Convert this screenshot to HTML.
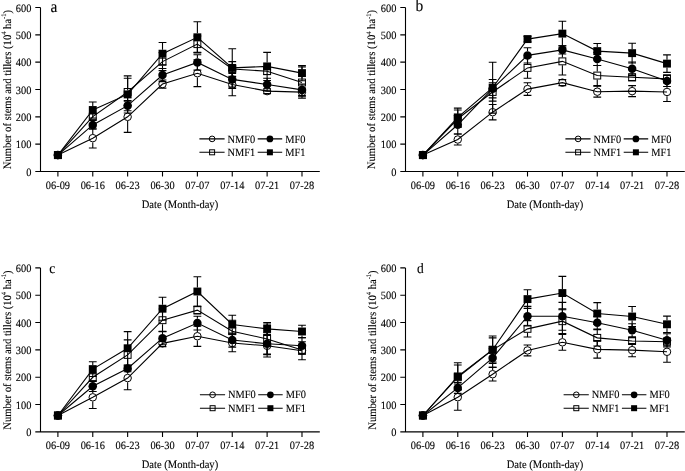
<!DOCTYPE html>
<html><head><meta charset="utf-8"><style>
html,body{margin:0;padding:0;background:#fff;}
svg{display:block;will-change:transform;}
text{font-family:"Liberation Serif", serif;font-size:10.4px;fill:#000;text-rendering:geometricPrecision;stroke:#000;stroke-width:0.1px;}
</style></head><body>
<svg width="685" height="471" viewBox="0 0 685 471">
<rect width="685" height="471" fill="#fff"/>
<g transform="translate(0,0)">
<path d="M40.5 7.5 V171.5 M35.3 171.5 H319.8" stroke="#000" stroke-width="1.1" fill="none"/>
<path d="M35.3 144.17 H40.5M35.3 116.83 H40.5M35.3 89.50 H40.5M35.3 62.17 H40.5M35.3 34.83 H40.5M35.3 7.50 H40.5M57.90 171.5 V176.6M92.77 171.5 V176.6M127.64 171.5 V176.6M162.51 171.5 V176.6M197.38 171.5 V176.6M232.25 171.5 V176.6M267.12 171.5 V176.6M301.99 171.5 V176.6" stroke="#000" stroke-width="1.1" fill="none"/>
<text transform="translate(31.40,175.60) scale(1,1.07)" text-anchor="end">0</text>
<text transform="translate(31.40,148.27) scale(1,1.07)" text-anchor="end">100</text>
<text transform="translate(31.40,120.93) scale(1,1.07)" text-anchor="end">200</text>
<text transform="translate(31.40,93.60) scale(1,1.07)" text-anchor="end">300</text>
<text transform="translate(31.40,66.27) scale(1,1.07)" text-anchor="end">400</text>
<text transform="translate(31.40,38.93) scale(1,1.07)" text-anchor="end">500</text>
<text transform="translate(31.40,11.60) scale(1,1.07)" text-anchor="end">600</text>
<text transform="translate(57.90,188.60) scale(1,1.07)" text-anchor="middle">06-09</text>
<text transform="translate(92.77,188.60) scale(1,1.07)" text-anchor="middle">06-16</text>
<text transform="translate(127.64,188.60) scale(1,1.07)" text-anchor="middle">06-23</text>
<text transform="translate(162.51,188.60) scale(1,1.07)" text-anchor="middle">06-30</text>
<text transform="translate(197.38,188.60) scale(1,1.07)" text-anchor="middle">07-07</text>
<text transform="translate(232.25,188.60) scale(1,1.07)" text-anchor="middle">07-14</text>
<text transform="translate(267.12,188.60) scale(1,1.07)" text-anchor="middle">07-21</text>
<text transform="translate(301.99,188.60) scale(1,1.07)" text-anchor="middle">07-28</text>
<text transform="translate(179.94,207.70) scale(1,1.07)" text-anchor="middle" style="font-size:10.55px">Date (Month-day)</text>
<text transform="translate(10.7,89.60) rotate(-90) scale(1,1.07)" text-anchor="middle" style="font-size:10.6px">Number of stems and tillers (10<tspan dy="-4" font-size="6.5">4</tspan><tspan dy="4"> ha</tspan><tspan dy="-4" font-size="6.5">-1</tspan><tspan dy="4">)</tspan></text>
<text transform="translate(50.60,12.00) scale(1,1.07)" style="font-size:15.5px">a</text>
<g transform="translate(0,0)">
<path d="M199.4 138.9 H224.6 M257.7 138.9 H282.2 M199.4 152.3 H224.6 M257.7 152.3 H282.2" stroke="#000" stroke-width="1.1"/>
<circle cx="212.10" cy="138.90" r="2.85" fill="none" stroke="#000" stroke-width="1"/>
<circle cx="269.90" cy="138.90" r="3.35" fill="#000"/>
<rect x="209.60" y="149.80" width="5.00" height="5.00" fill="none" stroke="#000" stroke-width="1"/>
<rect x="266.90" y="149.30" width="6.00" height="6.00" fill="#000"/>
<text transform="translate(227.60,142.50) scale(1,1.07)">NMF0</text><text transform="translate(285.30,142.50) scale(1,1.07)">MF0</text>
<text transform="translate(227.60,156.30) scale(1,1.07)">NMF1</text><text transform="translate(285.30,156.30) scale(1,1.07)">MF1</text>
</g>
<polyline points="57.90,155.10 92.77,138.15 127.64,116.83 162.51,84.03 197.38,73.21 232.25,84.58 267.12,91.14 301.99,92.10" fill="none" stroke="#000" stroke-width="1.1"/>
<path d="M92.77 128.31 V133.90 M92.77 142.40 V147.99 M88.87 128.31 H96.67 M88.87 147.99 H96.67 M127.64 101.25 V112.58 M127.64 121.08 V132.41 M123.74 101.25 H131.54 M123.74 132.41 H131.54 M158.61 79.93 H166.41 M158.61 88.13 H166.41 M197.38 59.82 V68.96 M197.38 77.46 V86.60 M193.48 59.82 H201.28 M193.48 86.60 H201.28 M232.25 73.37 V80.33 M232.25 88.83 V95.79 M228.35 73.37 H236.15 M228.35 95.79 H236.15 M263.22 88.68 H271.02 M263.22 93.60 H271.02 M298.09 88.00 H305.89 M298.09 96.20 H305.89 " fill="none" stroke="#000" stroke-width="1.1"/>
<circle cx="57.90" cy="155.10" r="3.75" fill="none" stroke="#000" stroke-width="1"/>
<circle cx="92.77" cy="138.15" r="3.75" fill="none" stroke="#000" stroke-width="1"/>
<circle cx="127.64" cy="116.83" r="3.75" fill="none" stroke="#000" stroke-width="1"/>
<circle cx="162.51" cy="84.03" r="3.75" fill="none" stroke="#000" stroke-width="1"/>
<circle cx="197.38" cy="73.21" r="3.75" fill="none" stroke="#000" stroke-width="1"/>
<circle cx="232.25" cy="84.58" r="3.75" fill="none" stroke="#000" stroke-width="1"/>
<circle cx="267.12" cy="91.14" r="3.75" fill="none" stroke="#000" stroke-width="1"/>
<circle cx="301.99" cy="92.10" r="3.75" fill="none" stroke="#000" stroke-width="1"/>
<polyline points="57.90,155.10 92.77,116.56 127.64,91.96 162.51,61.62 197.38,44.13 232.25,69.00 267.12,71.19 301.99,82.50" fill="none" stroke="#000" stroke-width="1.1"/>
<path d="M88.87 113.83 H96.67 M88.87 119.29 H96.67 M127.64 78.29 V88.01 M127.64 95.91 V105.63 M123.74 78.29 H131.54 M123.74 105.63 H131.54 M162.51 52.60 V57.67 M162.51 65.57 V70.64 M158.61 52.60 H166.41 M158.61 70.64 H166.41 M197.38 35.93 V40.18 M197.38 48.08 V52.33 M193.48 35.93 H201.28 M193.48 52.33 H201.28 M232.25 61.62 V65.05 M232.25 72.95 V76.38 M228.35 61.62 H236.15 M228.35 76.38 H236.15 M263.22 67.91 H271.02 M263.22 74.47 H271.02 M301.99 66.92 V78.55 M301.99 86.45 V98.08 M298.09 66.92 H305.89 M298.09 98.08 H305.89 " fill="none" stroke="#000" stroke-width="1.1"/>
<rect x="54.45" y="151.65" width="6.90" height="6.90" fill="none" stroke="#000" stroke-width="1"/>
<rect x="89.32" y="113.11" width="6.90" height="6.90" fill="none" stroke="#000" stroke-width="1"/>
<rect x="124.19" y="88.51" width="6.90" height="6.90" fill="none" stroke="#000" stroke-width="1"/>
<rect x="159.06" y="58.17" width="6.90" height="6.90" fill="none" stroke="#000" stroke-width="1"/>
<rect x="193.93" y="40.68" width="6.90" height="6.90" fill="none" stroke="#000" stroke-width="1"/>
<rect x="228.80" y="65.55" width="6.90" height="6.90" fill="none" stroke="#000" stroke-width="1"/>
<rect x="263.67" y="67.74" width="6.90" height="6.90" fill="none" stroke="#000" stroke-width="1"/>
<rect x="298.54" y="79.05" width="6.90" height="6.90" fill="none" stroke="#000" stroke-width="1"/>
<polyline points="57.90,155.10 92.77,124.90 127.64,105.63 162.51,75.10 197.38,62.44 232.25,79.39 267.12,84.58 301.99,89.91" fill="none" stroke="#000" stroke-width="1.1"/>
<path d="M92.77 120.52 V120.65 M92.77 129.15 V129.27 M88.87 120.52 H96.67 M88.87 129.27 H96.67 M127.64 100.43 V101.38 M127.64 109.88 V110.82 M123.74 100.43 H131.54 M123.74 110.82 H131.54 M162.51 68.54 V70.85 M162.51 79.35 V81.66 M158.61 68.54 H166.41 M158.61 81.66 H166.41 M197.38 54.79 V58.19 M197.38 66.69 V70.09 M193.48 54.79 H201.28 M193.48 70.09 H201.28 M232.25 70.37 V75.14 M232.25 83.64 V88.41 M228.35 70.37 H236.15 M228.35 88.41 H236.15 M267.12 78.29 V80.33 M267.12 88.83 V90.87 M263.22 78.29 H271.02 M263.22 90.87 H271.02 M301.99 84.17 V85.66 M301.99 94.16 V95.65 M298.09 84.17 H305.89 M298.09 95.65 H305.89 " fill="none" stroke="#000" stroke-width="1.1"/>
<circle cx="57.90" cy="155.10" r="4.25" fill="#000"/>
<circle cx="92.77" cy="124.90" r="4.25" fill="#000"/>
<circle cx="127.64" cy="105.63" r="4.25" fill="#000"/>
<circle cx="162.51" cy="75.10" r="4.25" fill="#000"/>
<circle cx="197.38" cy="62.44" r="4.25" fill="#000"/>
<circle cx="232.25" cy="79.39" r="4.25" fill="#000"/>
<circle cx="267.12" cy="84.58" r="4.25" fill="#000"/>
<circle cx="301.99" cy="89.91" r="4.25" fill="#000"/>
<polyline points="57.90,155.10 92.77,110.00 127.64,94.42 162.51,53.69 197.38,37.29 232.25,67.91 267.12,66.40 301.99,73.10" fill="none" stroke="#000" stroke-width="1.1"/>
<path d="M92.77 102.07 V106.05 M92.77 113.95 V117.93 M88.87 102.07 H96.67 M88.87 117.93 H96.67 M127.64 75.83 V90.47 M127.64 98.37 V113.01 M123.74 75.83 H131.54 M123.74 113.01 H131.54 M162.51 42.49 V49.74 M162.51 57.64 V64.90 M158.61 42.49 H166.41 M158.61 64.90 H166.41 M197.38 21.71 V33.34 M197.38 41.24 V52.87 M193.48 21.71 H201.28 M193.48 52.87 H201.28 M232.25 48.77 V63.96 M232.25 71.86 V87.04 M228.35 48.77 H236.15 M228.35 87.04 H236.15 M267.12 52.33 V62.45 M267.12 70.35 V80.48 M263.22 52.33 H271.02 M263.22 80.48 H271.02 M301.99 65.45 V69.15 M301.99 77.05 V80.75 M298.09 65.45 H305.89 M298.09 80.75 H305.89 " fill="none" stroke="#000" stroke-width="1.1"/>
<rect x="53.95" y="151.15" width="7.90" height="7.90" fill="#000"/>
<rect x="88.82" y="106.05" width="7.90" height="7.90" fill="#000"/>
<rect x="123.69" y="90.47" width="7.90" height="7.90" fill="#000"/>
<rect x="158.56" y="49.74" width="7.90" height="7.90" fill="#000"/>
<rect x="193.43" y="33.34" width="7.90" height="7.90" fill="#000"/>
<rect x="228.30" y="63.96" width="7.90" height="7.90" fill="#000"/>
<rect x="263.17" y="62.45" width="7.90" height="7.90" fill="#000"/>
<rect x="298.04" y="69.15" width="7.90" height="7.90" fill="#000"/>
</g>
<g transform="translate(365,0)">
<path d="M40.5 7.5 V171.5 M35.3 171.5 H319.8" stroke="#000" stroke-width="1.1" fill="none"/>
<path d="M35.3 144.17 H40.5M35.3 116.83 H40.5M35.3 89.50 H40.5M35.3 62.17 H40.5M35.3 34.83 H40.5M35.3 7.50 H40.5M57.90 171.5 V176.6M92.77 171.5 V176.6M127.64 171.5 V176.6M162.51 171.5 V176.6M197.38 171.5 V176.6M232.25 171.5 V176.6M267.12 171.5 V176.6M301.99 171.5 V176.6" stroke="#000" stroke-width="1.1" fill="none"/>
<text transform="translate(31.40,175.60) scale(1,1.07)" text-anchor="end">0</text>
<text transform="translate(31.40,148.27) scale(1,1.07)" text-anchor="end">100</text>
<text transform="translate(31.40,120.93) scale(1,1.07)" text-anchor="end">200</text>
<text transform="translate(31.40,93.60) scale(1,1.07)" text-anchor="end">300</text>
<text transform="translate(31.40,66.27) scale(1,1.07)" text-anchor="end">400</text>
<text transform="translate(31.40,38.93) scale(1,1.07)" text-anchor="end">500</text>
<text transform="translate(31.40,11.60) scale(1,1.07)" text-anchor="end">600</text>
<text transform="translate(57.90,188.60) scale(1,1.07)" text-anchor="middle">06-09</text>
<text transform="translate(92.77,188.60) scale(1,1.07)" text-anchor="middle">06-16</text>
<text transform="translate(127.64,188.60) scale(1,1.07)" text-anchor="middle">06-23</text>
<text transform="translate(162.51,188.60) scale(1,1.07)" text-anchor="middle">06-30</text>
<text transform="translate(197.38,188.60) scale(1,1.07)" text-anchor="middle">07-07</text>
<text transform="translate(232.25,188.60) scale(1,1.07)" text-anchor="middle">07-14</text>
<text transform="translate(267.12,188.60) scale(1,1.07)" text-anchor="middle">07-21</text>
<text transform="translate(301.99,188.60) scale(1,1.07)" text-anchor="middle">07-28</text>
<text transform="translate(179.94,207.70) scale(1,1.07)" text-anchor="middle" style="font-size:10.55px">Date (Month-day)</text>
<text transform="translate(10.0,89.60) rotate(-90) scale(1,1.07)" text-anchor="middle" style="font-size:10.6px">Number of stems and tillers (10<tspan dy="-4" font-size="6.5">4</tspan><tspan dy="4"> ha</tspan><tspan dy="-4" font-size="6.5">-1</tspan><tspan dy="4">)</tspan></text>
<text transform="translate(50.60,11.20) scale(1,1.07)" style="font-size:15.5px">b</text>
<g transform="translate(1.0,0)">
<path d="M199.4 138.9 H224.6 M257.7 138.9 H282.2 M199.4 152.3 H224.6 M257.7 152.3 H282.2" stroke="#000" stroke-width="1.1"/>
<circle cx="212.10" cy="138.90" r="2.85" fill="none" stroke="#000" stroke-width="1"/>
<circle cx="269.90" cy="138.90" r="3.35" fill="#000"/>
<rect x="209.60" y="149.80" width="5.00" height="5.00" fill="none" stroke="#000" stroke-width="1"/>
<rect x="266.90" y="149.30" width="6.00" height="6.00" fill="#000"/>
<text transform="translate(227.60,142.50) scale(1,1.07)">NMF0</text><text transform="translate(285.30,142.50) scale(1,1.07)">MF0</text>
<text transform="translate(227.60,156.30) scale(1,1.07)">NMF1</text><text transform="translate(285.30,156.30) scale(1,1.07)">MF1</text>
</g>
<polyline points="57.90,155.10 92.77,139.52 127.64,112.19 162.51,89.09 197.38,82.67 232.25,91.69 267.12,91.14 301.99,91.96" fill="none" stroke="#000" stroke-width="1.1"/>
<path d="M92.77 134.05 V135.27 M92.77 143.77 V144.99 M88.87 134.05 H96.67 M88.87 144.99 H96.67 M127.64 104.53 V107.94 M127.64 116.44 V119.84 M123.74 104.53 H131.54 M123.74 119.84 H131.54 M162.51 82.80 V84.84 M162.51 93.34 V95.38 M158.61 82.80 H166.41 M158.61 95.38 H166.41 M193.48 79.66 H201.28 M193.48 85.67 H201.28 M232.25 86.22 V87.44 M232.25 95.94 V97.15 M228.35 86.22 H236.15 M228.35 97.15 H236.15 M267.12 85.67 V86.89 M267.12 95.39 V96.61 M263.22 85.67 H271.02 M263.22 96.61 H271.02 M301.99 82.39 V87.71 M301.99 96.21 V101.53 M298.09 82.39 H305.89 M298.09 101.53 H305.89 " fill="none" stroke="#000" stroke-width="1.1"/>
<circle cx="57.90" cy="155.10" r="3.75" fill="none" stroke="#000" stroke-width="1"/>
<circle cx="92.77" cy="139.52" r="3.75" fill="none" stroke="#000" stroke-width="1"/>
<circle cx="127.64" cy="112.19" r="3.75" fill="none" stroke="#000" stroke-width="1"/>
<circle cx="162.51" cy="89.09" r="3.75" fill="none" stroke="#000" stroke-width="1"/>
<circle cx="197.38" cy="82.67" r="3.75" fill="none" stroke="#000" stroke-width="1"/>
<circle cx="232.25" cy="91.69" r="3.75" fill="none" stroke="#000" stroke-width="1"/>
<circle cx="267.12" cy="91.14" r="3.75" fill="none" stroke="#000" stroke-width="1"/>
<circle cx="301.99" cy="91.96" r="3.75" fill="none" stroke="#000" stroke-width="1"/>
<polyline points="57.90,155.10 92.77,118.75 127.64,91.96 162.51,67.91 197.38,61.35 232.25,75.56 267.12,77.31 301.99,78.84" fill="none" stroke="#000" stroke-width="1.1"/>
<path d="M92.77 110.00 V114.80 M92.77 122.70 V127.49 M88.87 110.00 H96.67 M88.87 127.49 H96.67 M127.64 82.78 V88.01 M127.64 95.91 V101.14 M123.74 82.78 H131.54 M123.74 101.14 H131.54 M162.51 57.52 V63.96 M162.51 71.86 V78.29 M158.61 57.52 H166.41 M158.61 78.29 H166.41 M197.38 47.68 V57.40 M197.38 65.30 V75.01 M193.48 47.68 H201.28 M193.48 75.01 H201.28 M232.25 65.45 V71.61 M232.25 79.51 V85.67 M228.35 65.45 H236.15 M228.35 85.67 H236.15 M263.22 74.03 H271.02 M263.22 80.59 H271.02 M301.99 74.74 V74.89 M301.99 82.79 V82.94 M298.09 74.74 H305.89 M298.09 82.94 H305.89 " fill="none" stroke="#000" stroke-width="1.1"/>
<rect x="54.45" y="151.65" width="6.90" height="6.90" fill="none" stroke="#000" stroke-width="1"/>
<rect x="89.32" y="115.30" width="6.90" height="6.90" fill="none" stroke="#000" stroke-width="1"/>
<rect x="124.19" y="88.51" width="6.90" height="6.90" fill="none" stroke="#000" stroke-width="1"/>
<rect x="159.06" y="64.46" width="6.90" height="6.90" fill="none" stroke="#000" stroke-width="1"/>
<rect x="193.93" y="57.90" width="6.90" height="6.90" fill="none" stroke="#000" stroke-width="1"/>
<rect x="228.80" y="72.11" width="6.90" height="6.90" fill="none" stroke="#000" stroke-width="1"/>
<rect x="263.67" y="73.86" width="6.90" height="6.90" fill="none" stroke="#000" stroke-width="1"/>
<rect x="298.54" y="75.39" width="6.90" height="6.90" fill="none" stroke="#000" stroke-width="1"/>
<polyline points="57.90,155.10 92.77,124.76 127.64,88.68 162.51,55.39 197.38,49.87 232.25,59.00 267.12,68.81 301.99,81.03" fill="none" stroke="#000" stroke-width="1.1"/>
<path d="M92.77 115.47 V120.51 M92.77 129.01 V134.05 M88.87 115.47 H96.67 M88.87 134.05 H96.67 M127.64 79.50 V84.43 M127.64 92.93 V97.86 M123.74 79.50 H131.54 M123.74 97.86 H131.54 M162.51 47.73 V51.14 M162.51 59.64 V63.04 M158.61 47.73 H166.41 M158.61 63.04 H166.41 M193.48 45.77 H201.28 M193.48 53.97 H201.28 M232.25 52.44 V54.75 M232.25 63.25 V65.56 M228.35 52.44 H236.15 M228.35 65.56 H236.15 M267.12 61.98 V64.56 M267.12 73.06 V75.64 M263.22 61.98 H271.02 M263.22 75.64 H271.02 M301.99 75.56 V76.78 M301.99 85.28 V86.49 M298.09 75.56 H305.89 M298.09 86.49 H305.89 " fill="none" stroke="#000" stroke-width="1.1"/>
<circle cx="57.90" cy="155.10" r="4.25" fill="#000"/>
<circle cx="92.77" cy="124.76" r="4.25" fill="#000"/>
<circle cx="127.64" cy="88.68" r="4.25" fill="#000"/>
<circle cx="162.51" cy="55.39" r="4.25" fill="#000"/>
<circle cx="197.38" cy="49.87" r="4.25" fill="#000"/>
<circle cx="232.25" cy="59.00" r="4.25" fill="#000"/>
<circle cx="267.12" cy="68.81" r="4.25" fill="#000"/>
<circle cx="301.99" cy="81.03" r="4.25" fill="#000"/>
<polyline points="57.90,155.10 92.77,117.38 127.64,87.70 162.51,39.10 197.38,33.60 232.25,51.10 267.12,53.15 301.99,63.62" fill="none" stroke="#000" stroke-width="1.1"/>
<path d="M92.77 108.09 V113.43 M92.77 121.33 V126.67 M88.87 108.09 H96.67 M88.87 126.67 H96.67 M127.64 62.28 V83.75 M127.64 91.65 V113.12 M123.74 62.28 H131.54 M123.74 113.12 H131.54 M158.61 36.36 H166.41 M158.61 41.83 H166.41 M197.38 21.30 V29.65 M197.38 37.55 V45.90 M193.48 21.30 H201.28 M193.48 45.90 H201.28 M232.25 43.44 V47.15 M232.25 55.05 V58.75 M228.35 43.44 H236.15 M228.35 58.75 H236.15 M267.12 43.31 V49.20 M267.12 57.10 V62.99 M263.22 43.31 H271.02 M263.22 62.99 H271.02 M301.99 54.87 V59.67 M301.99 67.57 V72.36 M298.09 54.87 H305.89 M298.09 72.36 H305.89 " fill="none" stroke="#000" stroke-width="1.1"/>
<rect x="53.95" y="151.15" width="7.90" height="7.90" fill="#000"/>
<rect x="88.82" y="113.43" width="7.90" height="7.90" fill="#000"/>
<rect x="123.69" y="83.75" width="7.90" height="7.90" fill="#000"/>
<rect x="158.56" y="35.15" width="7.90" height="7.90" fill="#000"/>
<rect x="193.43" y="29.65" width="7.90" height="7.90" fill="#000"/>
<rect x="228.30" y="47.15" width="7.90" height="7.90" fill="#000"/>
<rect x="263.17" y="49.20" width="7.90" height="7.90" fill="#000"/>
<rect x="298.04" y="59.67" width="7.90" height="7.90" fill="#000"/>
</g>
<g transform="translate(0,260.4)">
<path d="M40.5 7.5 V171.5 M35.3 171.5 H319.8" stroke="#000" stroke-width="1.1" fill="none"/>
<path d="M35.3 144.17 H40.5M35.3 116.83 H40.5M35.3 89.50 H40.5M35.3 62.17 H40.5M35.3 34.83 H40.5M35.3 7.50 H40.5M57.90 171.5 V176.6M92.77 171.5 V176.6M127.64 171.5 V176.6M162.51 171.5 V176.6M197.38 171.5 V176.6M232.25 171.5 V176.6M267.12 171.5 V176.6M301.99 171.5 V176.6" stroke="#000" stroke-width="1.1" fill="none"/>
<text transform="translate(31.40,175.60) scale(1,1.07)" text-anchor="end">0</text>
<text transform="translate(31.40,148.27) scale(1,1.07)" text-anchor="end">100</text>
<text transform="translate(31.40,120.93) scale(1,1.07)" text-anchor="end">200</text>
<text transform="translate(31.40,93.60) scale(1,1.07)" text-anchor="end">300</text>
<text transform="translate(31.40,66.27) scale(1,1.07)" text-anchor="end">400</text>
<text transform="translate(31.40,38.93) scale(1,1.07)" text-anchor="end">500</text>
<text transform="translate(31.40,11.60) scale(1,1.07)" text-anchor="end">600</text>
<text transform="translate(57.90,188.60) scale(1,1.07)" text-anchor="middle">06-09</text>
<text transform="translate(92.77,188.60) scale(1,1.07)" text-anchor="middle">06-16</text>
<text transform="translate(127.64,188.60) scale(1,1.07)" text-anchor="middle">06-23</text>
<text transform="translate(162.51,188.60) scale(1,1.07)" text-anchor="middle">06-30</text>
<text transform="translate(197.38,188.60) scale(1,1.07)" text-anchor="middle">07-07</text>
<text transform="translate(232.25,188.60) scale(1,1.07)" text-anchor="middle">07-14</text>
<text transform="translate(267.12,188.60) scale(1,1.07)" text-anchor="middle">07-21</text>
<text transform="translate(301.99,188.60) scale(1,1.07)" text-anchor="middle">07-28</text>
<text transform="translate(179.94,207.70) scale(1,1.07)" text-anchor="middle" style="font-size:10.55px">Date (Month-day)</text>
<text transform="translate(10.7,89.60) rotate(-90) scale(1,1.07)" text-anchor="middle" style="font-size:10.6px">Number of stems and tillers (10<tspan dy="-4" font-size="6.5">4</tspan><tspan dy="4"> ha</tspan><tspan dy="-4" font-size="6.5">-1</tspan><tspan dy="4">)</tspan></text>
<text transform="translate(49.20,12.60) scale(1,1.07)" style="font-size:13.5px">c</text>
<g transform="translate(0.5,-4.5)">
<path d="M199.4 138.9 H224.6 M257.7 138.9 H282.2 M199.4 152.3 H224.6 M257.7 152.3 H282.2" stroke="#000" stroke-width="1.1"/>
<circle cx="212.10" cy="138.90" r="2.85" fill="none" stroke="#000" stroke-width="1"/>
<circle cx="269.90" cy="138.90" r="3.35" fill="#000"/>
<rect x="209.60" y="149.80" width="5.00" height="5.00" fill="none" stroke="#000" stroke-width="1"/>
<rect x="266.90" y="149.30" width="6.00" height="6.00" fill="#000"/>
<text transform="translate(227.60,142.50) scale(1,1.07)">NMF0</text><text transform="translate(285.30,142.50) scale(1,1.07)">MF0</text>
<text transform="translate(227.60,156.30) scale(1,1.07)">NMF1</text><text transform="translate(285.30,156.30) scale(1,1.07)">MF1</text>
</g>
<polyline points="57.90,155.10 92.77,136.90 127.64,117.65 162.51,82.94 197.38,75.83 232.25,82.67 267.12,85.40 301.99,90.32" fill="none" stroke="#000" stroke-width="1.1"/>
<path d="M92.77 125.69 V132.65 M92.77 141.15 V148.10 M88.87 125.69 H96.67 M88.87 148.10 H96.67 M127.64 105.90 V113.40 M127.64 121.90 V129.41 M123.74 105.90 H131.54 M123.74 129.41 H131.54 M158.61 79.66 H166.41 M158.61 86.22 H166.41 M197.38 65.72 V71.58 M197.38 80.08 V85.95 M193.48 65.72 H201.28 M193.48 85.95 H201.28 M232.25 73.92 V78.42 M232.25 86.92 V91.41 M228.35 73.92 H236.15 M228.35 91.41 H236.15 M267.12 74.19 V81.15 M267.12 89.65 V96.61 M263.22 74.19 H271.02 M263.22 96.61 H271.02 M301.99 81.30 V86.07 M301.99 94.57 V99.34 M298.09 81.30 H305.89 M298.09 99.34 H305.89 " fill="none" stroke="#000" stroke-width="1.1"/>
<circle cx="57.90" cy="155.10" r="3.75" fill="none" stroke="#000" stroke-width="1"/>
<circle cx="92.77" cy="136.90" r="3.75" fill="none" stroke="#000" stroke-width="1"/>
<circle cx="127.64" cy="117.65" r="3.75" fill="none" stroke="#000" stroke-width="1"/>
<circle cx="162.51" cy="82.94" r="3.75" fill="none" stroke="#000" stroke-width="1"/>
<circle cx="197.38" cy="75.83" r="3.75" fill="none" stroke="#000" stroke-width="1"/>
<circle cx="232.25" cy="82.67" r="3.75" fill="none" stroke="#000" stroke-width="1"/>
<circle cx="267.12" cy="85.40" r="3.75" fill="none" stroke="#000" stroke-width="1"/>
<circle cx="301.99" cy="90.32" r="3.75" fill="none" stroke="#000" stroke-width="1"/>
<polyline points="57.90,155.10 92.77,116.89 127.64,94.50 162.51,59.79 197.38,49.70 232.25,70.78 267.12,78.57 301.99,89.50" fill="none" stroke="#000" stroke-width="1.1"/>
<path d="M92.77 112.79 V112.94 M92.77 120.84 V120.99 M88.87 112.79 H96.67 M88.87 120.99 H96.67 M127.64 79.47 V90.55 M127.64 98.45 V109.54 M123.74 79.47 H131.54 M123.74 109.54 H131.54 M162.51 48.58 V55.84 M162.51 63.74 V71.00 M158.61 48.58 H166.41 M158.61 71.00 H166.41 M193.48 45.88 H201.28 M193.48 53.53 H201.28 M232.25 59.84 V66.83 M232.25 74.73 V81.71 M228.35 59.84 H236.15 M228.35 81.71 H236.15 M267.12 63.53 V74.62 M267.12 82.52 V93.60 M263.22 63.53 H271.02 M263.22 93.60 H271.02 M301.99 85.13 V85.55 M301.99 93.45 V93.87 M298.09 85.13 H305.89 M298.09 93.87 H305.89 " fill="none" stroke="#000" stroke-width="1.1"/>
<rect x="54.45" y="151.65" width="6.90" height="6.90" fill="none" stroke="#000" stroke-width="1"/>
<rect x="89.32" y="113.44" width="6.90" height="6.90" fill="none" stroke="#000" stroke-width="1"/>
<rect x="124.19" y="91.05" width="6.90" height="6.90" fill="none" stroke="#000" stroke-width="1"/>
<rect x="159.06" y="56.34" width="6.90" height="6.90" fill="none" stroke="#000" stroke-width="1"/>
<rect x="193.93" y="46.25" width="6.90" height="6.90" fill="none" stroke="#000" stroke-width="1"/>
<rect x="228.80" y="67.33" width="6.90" height="6.90" fill="none" stroke="#000" stroke-width="1"/>
<rect x="263.67" y="75.12" width="6.90" height="6.90" fill="none" stroke="#000" stroke-width="1"/>
<rect x="298.54" y="86.05" width="6.90" height="6.90" fill="none" stroke="#000" stroke-width="1"/>
<polyline points="57.90,155.10 92.77,125.85 127.64,108.09 162.51,77.75 197.38,62.71 232.25,79.66 267.12,83.30 301.99,85.40" fill="none" stroke="#000" stroke-width="1.1"/>
<path d="M92.77 120.66 V121.60 M92.77 130.10 V131.05 M88.87 120.66 H96.67 M88.87 131.05 H96.67 M123.74 104.81 H131.54 M123.74 111.37 H131.54 M162.51 71.19 V73.50 M162.51 82.00 V84.31 M158.61 71.19 H166.41 M158.61 84.31 H166.41 M197.38 55.88 V58.46 M197.38 66.96 V69.55 M193.48 55.88 H201.28 M193.48 69.55 H201.28 M232.25 72.55 V75.41 M232.25 83.91 V86.77 M228.35 72.55 H236.15 M228.35 86.77 H236.15 M267.12 72.36 V79.05 M267.12 87.55 V94.23 M263.22 72.36 H271.02 M263.22 94.23 H271.02 M301.99 77.20 V81.15 M301.99 89.65 V93.60 M298.09 77.20 H305.89 M298.09 93.60 H305.89 " fill="none" stroke="#000" stroke-width="1.1"/>
<circle cx="57.90" cy="155.10" r="4.25" fill="#000"/>
<circle cx="92.77" cy="125.85" r="4.25" fill="#000"/>
<circle cx="127.64" cy="108.09" r="4.25" fill="#000"/>
<circle cx="162.51" cy="77.75" r="4.25" fill="#000"/>
<circle cx="197.38" cy="62.71" r="4.25" fill="#000"/>
<circle cx="232.25" cy="79.66" r="4.25" fill="#000"/>
<circle cx="267.12" cy="83.30" r="4.25" fill="#000"/>
<circle cx="301.99" cy="85.40" r="4.25" fill="#000"/>
<polyline points="57.90,155.10 92.77,108.69 127.64,87.86 162.51,48.31 197.38,31.12 232.25,64.08 267.12,68.45 301.99,71.10" fill="none" stroke="#000" stroke-width="1.1"/>
<path d="M92.77 101.31 V104.74 M92.77 112.64 V116.07 M88.87 101.31 H96.67 M88.87 116.07 H96.67 M127.64 71.19 V83.91 M127.64 91.81 V104.53 M123.74 71.19 H131.54 M123.74 104.53 H131.54 M162.51 36.83 V44.36 M162.51 52.26 V59.79 M158.61 36.83 H166.41 M158.61 59.79 H166.41 M197.38 16.36 V27.17 M197.38 35.07 V45.88 M193.48 16.36 H201.28 M193.48 45.88 H201.28 M232.25 54.79 V60.13 M232.25 68.03 V73.37 M228.35 54.79 H236.15 M228.35 73.37 H236.15 M267.12 62.17 V64.50 M267.12 72.40 V74.74 M263.22 62.17 H271.02 M263.22 74.74 H271.02 M301.99 64.82 V67.15 M301.99 75.05 V77.39 M298.09 64.82 H305.89 M298.09 77.39 H305.89 " fill="none" stroke="#000" stroke-width="1.1"/>
<rect x="53.95" y="151.15" width="7.90" height="7.90" fill="#000"/>
<rect x="88.82" y="104.74" width="7.90" height="7.90" fill="#000"/>
<rect x="123.69" y="83.91" width="7.90" height="7.90" fill="#000"/>
<rect x="158.56" y="44.36" width="7.90" height="7.90" fill="#000"/>
<rect x="193.43" y="27.17" width="7.90" height="7.90" fill="#000"/>
<rect x="228.30" y="60.13" width="7.90" height="7.90" fill="#000"/>
<rect x="263.17" y="64.50" width="7.90" height="7.90" fill="#000"/>
<rect x="298.04" y="67.15" width="7.90" height="7.90" fill="#000"/>
</g>
<g transform="translate(365,260.4)">
<path d="M40.5 7.5 V171.5 M35.3 171.5 H319.8" stroke="#000" stroke-width="1.1" fill="none"/>
<path d="M35.3 144.17 H40.5M35.3 116.83 H40.5M35.3 89.50 H40.5M35.3 62.17 H40.5M35.3 34.83 H40.5M35.3 7.50 H40.5M57.90 171.5 V176.6M92.77 171.5 V176.6M127.64 171.5 V176.6M162.51 171.5 V176.6M197.38 171.5 V176.6M232.25 171.5 V176.6M267.12 171.5 V176.6M301.99 171.5 V176.6" stroke="#000" stroke-width="1.1" fill="none"/>
<text transform="translate(31.40,175.60) scale(1,1.07)" text-anchor="end">0</text>
<text transform="translate(31.40,148.27) scale(1,1.07)" text-anchor="end">100</text>
<text transform="translate(31.40,120.93) scale(1,1.07)" text-anchor="end">200</text>
<text transform="translate(31.40,93.60) scale(1,1.07)" text-anchor="end">300</text>
<text transform="translate(31.40,66.27) scale(1,1.07)" text-anchor="end">400</text>
<text transform="translate(31.40,38.93) scale(1,1.07)" text-anchor="end">500</text>
<text transform="translate(31.40,11.60) scale(1,1.07)" text-anchor="end">600</text>
<text transform="translate(57.90,188.60) scale(1,1.07)" text-anchor="middle">06-09</text>
<text transform="translate(92.77,188.60) scale(1,1.07)" text-anchor="middle">06-16</text>
<text transform="translate(127.64,188.60) scale(1,1.07)" text-anchor="middle">06-23</text>
<text transform="translate(162.51,188.60) scale(1,1.07)" text-anchor="middle">06-30</text>
<text transform="translate(197.38,188.60) scale(1,1.07)" text-anchor="middle">07-07</text>
<text transform="translate(232.25,188.60) scale(1,1.07)" text-anchor="middle">07-14</text>
<text transform="translate(267.12,188.60) scale(1,1.07)" text-anchor="middle">07-21</text>
<text transform="translate(301.99,188.60) scale(1,1.07)" text-anchor="middle">07-28</text>
<text transform="translate(179.94,207.70) scale(1,1.07)" text-anchor="middle" style="font-size:10.55px">Date (Month-day)</text>
<text transform="translate(10.7,89.60) rotate(-90) scale(1,1.07)" text-anchor="middle" style="font-size:10.6px">Number of stems and tillers (10<tspan dy="-4" font-size="6.5">4</tspan><tspan dy="4"> ha</tspan><tspan dy="-4" font-size="6.5">-1</tspan><tspan dy="4">)</tspan></text>
<text transform="translate(52.00,12.30) scale(1,1.07)" style="font-size:13.5px">d</text>
<g transform="translate(-0.8,-4.5)">
<path d="M199.4 138.9 H224.6 M257.7 138.9 H282.2 M199.4 152.3 H224.6 M257.7 152.3 H282.2" stroke="#000" stroke-width="1.1"/>
<circle cx="212.10" cy="138.90" r="2.85" fill="none" stroke="#000" stroke-width="1"/>
<circle cx="269.90" cy="138.90" r="3.35" fill="#000"/>
<rect x="209.60" y="149.80" width="5.00" height="5.00" fill="none" stroke="#000" stroke-width="1"/>
<rect x="266.90" y="149.30" width="6.00" height="6.00" fill="#000"/>
<text transform="translate(227.60,142.50) scale(1,1.07)">NMF0</text><text transform="translate(285.30,142.50) scale(1,1.07)">MF0</text>
<text transform="translate(227.60,156.30) scale(1,1.07)">NMF1</text><text transform="translate(285.30,156.30) scale(1,1.07)">MF1</text>
</g>
<polyline points="57.90,155.10 92.77,136.79 127.64,113.83 162.51,90.05 197.38,81.90 232.25,89.01 267.12,89.77 301.99,91.41" fill="none" stroke="#000" stroke-width="1.1"/>
<path d="M92.77 123.67 V132.54 M92.77 141.04 V149.91 M88.87 123.67 H96.67 M88.87 149.91 H96.67 M127.64 106.99 V109.58 M127.64 118.08 V120.66 M123.74 106.99 H131.54 M123.74 120.66 H131.54 M162.51 84.58 V85.80 M162.51 94.30 V95.51 M158.61 84.58 H166.41 M158.61 95.51 H166.41 M197.38 73.97 V77.65 M197.38 86.15 V89.83 M193.48 73.97 H201.28 M193.48 89.83 H201.28 M232.25 80.26 V84.76 M232.25 93.26 V97.75 M228.35 80.26 H236.15 M228.35 97.75 H236.15 M267.12 83.21 V85.52 M267.12 94.02 V96.33 M263.22 83.21 H271.02 M263.22 96.33 H271.02 M301.99 81.03 V87.16 M301.99 95.66 V101.80 M298.09 81.03 H305.89 M298.09 101.80 H305.89 " fill="none" stroke="#000" stroke-width="1.1"/>
<circle cx="57.90" cy="155.10" r="3.75" fill="none" stroke="#000" stroke-width="1"/>
<circle cx="92.77" cy="136.79" r="3.75" fill="none" stroke="#000" stroke-width="1"/>
<circle cx="127.64" cy="113.83" r="3.75" fill="none" stroke="#000" stroke-width="1"/>
<circle cx="162.51" cy="90.05" r="3.75" fill="none" stroke="#000" stroke-width="1"/>
<circle cx="197.38" cy="81.90" r="3.75" fill="none" stroke="#000" stroke-width="1"/>
<circle cx="232.25" cy="89.01" r="3.75" fill="none" stroke="#000" stroke-width="1"/>
<circle cx="267.12" cy="89.77" r="3.75" fill="none" stroke="#000" stroke-width="1"/>
<circle cx="301.99" cy="91.41" r="3.75" fill="none" stroke="#000" stroke-width="1"/>
<polyline points="57.90,155.10 92.77,116.83 127.64,89.50 162.51,68.45 197.38,60.80 232.25,77.47 267.12,80.59 301.99,81.30" fill="none" stroke="#000" stroke-width="1.1"/>
<path d="M92.77 104.53 V112.88 M92.77 120.78 V129.13 M88.87 104.53 H96.67 M88.87 129.13 H96.67 M127.64 77.47 V85.55 M127.64 93.45 V101.53 M123.74 77.47 H131.54 M123.74 101.53 H131.54 M162.51 60.25 V64.50 M162.51 72.40 V76.65 M158.61 60.25 H166.41 M158.61 76.65 H166.41 M197.38 48.50 V56.85 M197.38 64.75 V73.10 M193.48 48.50 H201.28 M193.48 73.10 H201.28 M232.25 69.27 V73.52 M232.25 81.42 V85.67 M228.35 69.27 H236.15 M228.35 85.67 H236.15 M263.22 77.31 H271.02 M263.22 83.87 H271.02 M298.09 78.02 H305.89 M298.09 84.58 H305.89 " fill="none" stroke="#000" stroke-width="1.1"/>
<rect x="54.45" y="151.65" width="6.90" height="6.90" fill="none" stroke="#000" stroke-width="1"/>
<rect x="89.32" y="113.38" width="6.90" height="6.90" fill="none" stroke="#000" stroke-width="1"/>
<rect x="124.19" y="86.05" width="6.90" height="6.90" fill="none" stroke="#000" stroke-width="1"/>
<rect x="159.06" y="65.00" width="6.90" height="6.90" fill="none" stroke="#000" stroke-width="1"/>
<rect x="193.93" y="57.35" width="6.90" height="6.90" fill="none" stroke="#000" stroke-width="1"/>
<rect x="228.80" y="74.02" width="6.90" height="6.90" fill="none" stroke="#000" stroke-width="1"/>
<rect x="263.67" y="77.14" width="6.90" height="6.90" fill="none" stroke="#000" stroke-width="1"/>
<rect x="298.54" y="77.85" width="6.90" height="6.90" fill="none" stroke="#000" stroke-width="1"/>
<polyline points="57.90,155.10 92.77,127.49 127.64,97.51 162.51,55.80 197.38,55.88 232.25,62.30 267.12,69.90 301.99,79.93" fill="none" stroke="#000" stroke-width="1.1"/>
<path d="M92.77 122.03 V123.24 M92.77 131.74 V132.96 M88.87 122.03 H96.67 M88.87 132.96 H96.67 M127.64 88.22 V93.26 M127.64 101.76 V106.80 M123.74 88.22 H131.54 M123.74 106.80 H131.54 M162.51 45.96 V51.55 M162.51 60.05 V65.64 M158.61 45.96 H166.41 M158.61 65.64 H166.41 M197.38 41.94 V51.63 M197.38 60.13 V69.82 M193.48 41.94 H201.28 M193.48 69.82 H201.28 M232.25 56.02 V58.05 M232.25 66.55 V68.59 M228.35 56.02 H236.15 M228.35 68.59 H236.15 M267.12 63.34 V65.65 M267.12 74.15 V76.46 M263.22 63.34 H271.02 M263.22 76.46 H271.02 M301.99 73.37 V75.68 M301.99 84.18 V86.49 M298.09 73.37 H305.89 M298.09 86.49 H305.89 " fill="none" stroke="#000" stroke-width="1.1"/>
<circle cx="57.90" cy="155.10" r="4.25" fill="#000"/>
<circle cx="92.77" cy="127.49" r="4.25" fill="#000"/>
<circle cx="127.64" cy="97.51" r="4.25" fill="#000"/>
<circle cx="162.51" cy="55.80" r="4.25" fill="#000"/>
<circle cx="197.38" cy="55.88" r="4.25" fill="#000"/>
<circle cx="232.25" cy="62.30" r="4.25" fill="#000"/>
<circle cx="267.12" cy="69.90" r="4.25" fill="#000"/>
<circle cx="301.99" cy="79.93" r="4.25" fill="#000"/>
<polyline points="57.90,155.10 92.77,116.01 127.64,89.31 162.51,38.71 197.38,32.65 232.25,53.15 267.12,56.15 301.99,63.89" fill="none" stroke="#000" stroke-width="1.1"/>
<path d="M92.77 102.35 V112.06 M92.77 119.96 V129.68 M88.87 102.35 H96.67 M88.87 129.68 H96.67 M127.64 75.64 V85.36 M127.64 93.26 V102.98 M123.74 75.64 H131.54 M123.74 102.98 H131.54 M162.51 29.42 V34.76 M162.51 42.66 V48.01 M158.61 29.42 H166.41 M158.61 48.01 H166.41 M197.38 15.97 V28.70 M197.38 36.60 V49.32 M193.48 15.97 H201.28 M193.48 49.32 H201.28 M232.25 42.21 V49.20 M232.25 57.10 V64.08 M228.35 42.21 H236.15 M228.35 64.08 H236.15 M267.12 46.04 V52.20 M267.12 60.10 V66.27 M263.22 46.04 H271.02 M263.22 66.27 H271.02 M301.99 55.69 V59.94 M301.99 67.84 V72.09 M298.09 55.69 H305.89 M298.09 72.09 H305.89 " fill="none" stroke="#000" stroke-width="1.1"/>
<rect x="53.95" y="151.15" width="7.90" height="7.90" fill="#000"/>
<rect x="88.82" y="112.06" width="7.90" height="7.90" fill="#000"/>
<rect x="123.69" y="85.36" width="7.90" height="7.90" fill="#000"/>
<rect x="158.56" y="34.76" width="7.90" height="7.90" fill="#000"/>
<rect x="193.43" y="28.70" width="7.90" height="7.90" fill="#000"/>
<rect x="228.30" y="49.20" width="7.90" height="7.90" fill="#000"/>
<rect x="263.17" y="52.20" width="7.90" height="7.90" fill="#000"/>
<rect x="298.04" y="59.94" width="7.90" height="7.90" fill="#000"/>
</g>
</svg>
</body></html>
